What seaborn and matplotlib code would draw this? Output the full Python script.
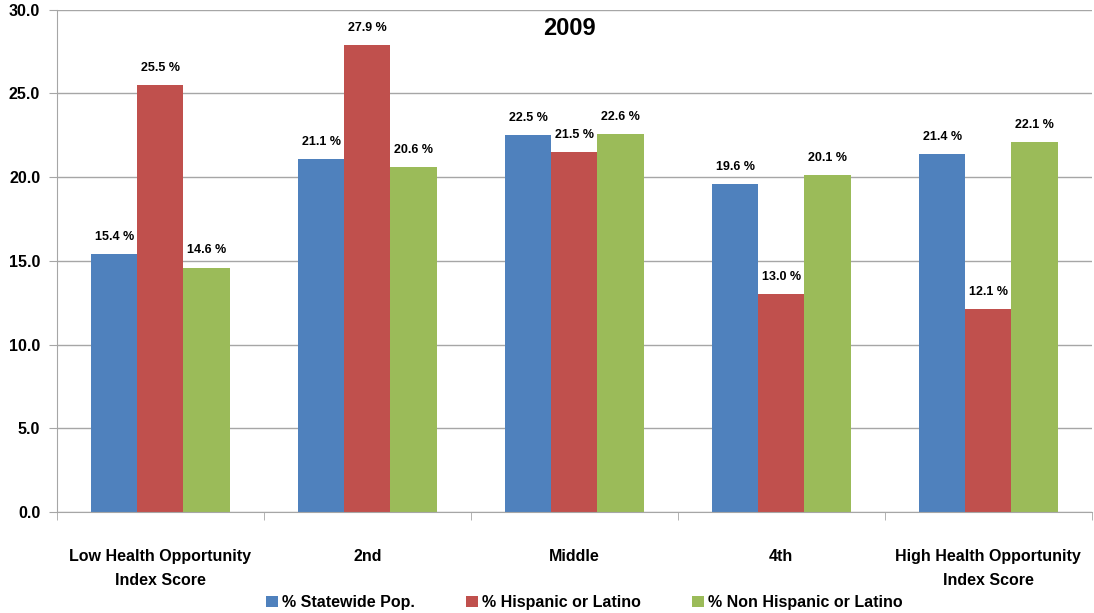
import numpy as np
import pandas as pd
import seaborn as sns
import matplotlib.pyplot as plt
from matplotlib.ticker import FixedLocator

categories = ["Low Health Opportunity\nIndex Score", "2nd", "Middle", "4th",
              "High Health Opportunity\nIndex Score"]
series = ["% Statewide Pop.", "% Hispanic or Latino", "% Non Hispanic or Latino"]
statewide = [15.4, 21.1, 22.5, 19.6, 21.4]
hispanic = [25.5, 27.9, 21.5, 13.0, 12.1]
non_hispanic = [14.6, 20.6, 22.6, 20.1, 22.1]
colors = ["#4F81BD", "#C0504D", "#9BBB59"]

df = pd.DataFrame({
    "cat": categories * 3,
    "series": [s for s in series for _ in categories],
    "value": statewide + hispanic + non_hispanic,
})

sns.set_style("white")
plt.rcParams["font.family"] = ["Liberation Sans Narrow", "Liberation Sans", "DejaVu Sans"]
plt.rcParams["font.weight"] = "bold"
plt.rcParams["text.color"] = "black"

fig = plt.figure(figsize=(10.94, 6.13), dpi=100)
ax = fig.add_axes([0.052, 0.165, 0.946, 0.819])

sns.barplot(data=df, x="cat", y="value", hue="series", palette=colors,
            width=0.67, saturation=1, linewidth=0, ax=ax, legend=True)

for cont in ax.containers:
    ax.bar_label(cont, labels=[f"{v:.1f} %" for v in cont.datavalues],
                 padding=8, fontsize=9, fontweight="bold", color="black")

ax.set_ylim(0, 30)
ax.set_yticks(np.arange(0, 31, 5))
ax.set_yticklabels([f"{v:.1f}" for v in np.arange(0, 31, 5)], fontsize=11.5,
                   fontweight="bold", color="black")
ax.yaxis.grid(True, color="#A6A6A6", linewidth=1)
ax.set_axisbelow(True)
ax.tick_params(axis="y", length=6, color="#A6A6A6", direction="out", left=True, pad=6)
ax.set_xlim(-0.5, 4.5)
ax.tick_params(axis="x", which="major", length=0, labelsize=11.5, pad=27,
               labelcolor="black")
for t in ax.get_xticklabels():
    t.set_fontweight("bold")
    t.set_linespacing(1.7)
ax.xaxis.set_minor_locator(FixedLocator(np.arange(-0.5, 4.6, 1)))
ax.tick_params(axis="x", which="minor", length=6, color="#A6A6A6", bottom=True)
ax.set_xlabel("")
ax.set_ylabel("")
for s in ["top", "right"]:
    ax.spines[s].set_visible(False)
for s in ["left", "bottom"]:
    ax.spines[s].set_color("#A6A6A6")

ax.text(0.495, 0.985, "2009", transform=ax.transAxes, ha="center", va="top",
        fontsize=17, fontweight="bold", color="black")

ax.legend(loc="lower center", bbox_to_anchor=(0.51, -0.195), ncol=3, frameon=False,
          fontsize=11.5, handlelength=0.7, handleheight=0.7, handletextpad=0.3,
          columnspacing=3.2, borderaxespad=0, borderpad=0)

fig.savefig("out.png", dpi=100)
